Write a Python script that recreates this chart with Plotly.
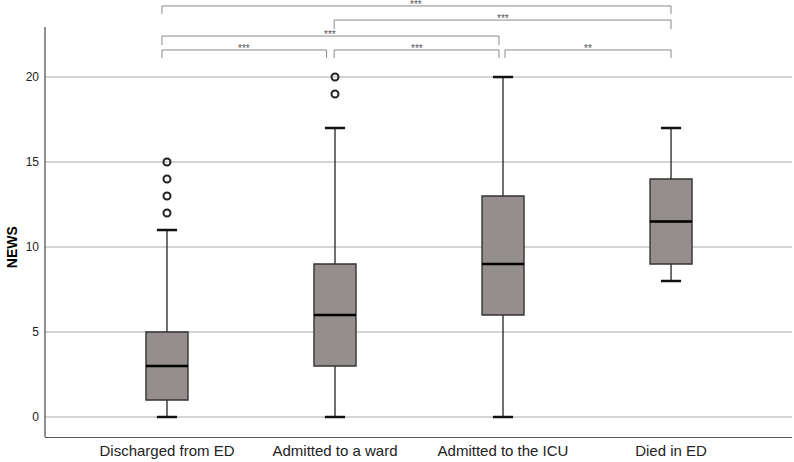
import plotly.graph_objects as go

# group labels and box statistics
categories = ["Discharged from ED", "Admitted to a ward", "Admitted to the ICU", "Died in ED"]
lower = [0, 0, 0, 8]
q1 = [1, 3, 6, 9]
median = [3, 6, 9, 11.5]
q3 = [5, 9, 13, 14]
upper = [11, 17, 20, 17]
outliers = [[12, 13, 14, 15], [19, 20], [], []]
yticks = [0, 5, 10, 15, 20]

# pairwise comparisons: (from group, to group, label)
comparisons = [
    (0, 3, "***"),
    (1, 3, "***"),
    (0, 2, "***"),
    (0, 1, "***"),
    (1, 2, "***"),
    (2, 3, "**"),
]

BOX_W = 0.25
CAP_W = 0.12
pos = list(range(len(categories)))

fig = go.Figure()

for i, name in enumerate(categories):
    fig.add_trace(go.Box(
        x=[pos[i]], q1=[q1[i]], median=[median[i]], q3=[q3[i]],
        lowerfence=[lower[i]], upperfence=[upper[i]],
        width=BOX_W, whiskerwidth=0.001,
        fillcolor="#948f8d", line=dict(color="#333", width=1.4),
        boxpoints=False, name=name, hoverinfo="skip",
    ))

# thick black medians and whisker caps like SPSS
mx, my, cx, cy = [], [], [], []
for i in pos:
    mx += [i - BOX_W / 2, i + BOX_W / 2, None]
    my += [median[i], median[i], None]
    for v in (lower[i], upper[i]):
        cx += [i - CAP_W / 2, i + CAP_W / 2, None]
        cy += [v, v, None]
fig.add_trace(go.Scatter(x=mx, y=my, mode="lines", line=dict(color="black", width=2.5), hoverinfo="skip"))
fig.add_trace(go.Scatter(x=cx, y=cy, mode="lines", line=dict(color="#111", width=2.5), hoverinfo="skip"))

ox, oy = [], []
for i in pos:
    for v in outliers[i]:
        ox.append(i)
        oy.append(v)
fig.add_trace(go.Scatter(x=ox, y=oy, mode="markers",
                         marker=dict(symbol="circle-open", size=7, color="#222", line=dict(width=2)),
                         hoverinfo="skip"))

# significance brackets
levels = [(24.18, 23.71), (23.35, 22.82), (22.41, 21.88), (21.59, 21.12), (21.59, 21.12), (21.59, 21.12)]
for k, (a, b, lab) in enumerate(comparisons):
    top, bot = levels[k]
    xa = a - 0.03 if a != 1 else a - 0.005
    xb = b - 0.05 if (b == 1) else (b - 0.024 if b == 2 else b)
    if a == 2 and k == 5:
        xa = a + 0.012
    fig.add_shape(type="path", xref="x", yref="y",
                  path=f"M {xa},{bot} L {xa},{top} L {xb},{top} L {xb},{bot}",
                  line=dict(color="#8a8a8a", width=1))
    fig.add_annotation(x=(xa + xb) / 2, y=top, text=lab, showarrow=False,
                       yanchor="bottom", yshift=-6, font=dict(size=10, color="#555"))

# left axis line (stops short of the brackets)
fig.add_shape(type="line", xref="paper", yref="y", x0=0, x1=0, y0=-1.18, y1=22.94,
              line=dict(color="#555", width=1.3))

fig.add_annotation(text="<b>NEWS</b>", xref="paper", yref="y", x=-0.044, xanchor="center", y=10,
                   textangle=-90, showarrow=False, font=dict(size=14, color="black"))

fig.update_layout(
    width=794, height=462,
    margin=dict(l=45, r=2, t=0, b=25),
    paper_bgcolor="white", plot_bgcolor="white",
    showlegend=False,
    font=dict(family="Liberation Sans, Arial, sans-serif", color="#222"),
    xaxis=dict(range=[-0.726, 3.72], tickvals=pos, ticktext=categories,
               showgrid=False, zeroline=False, showline=True, linecolor="#555", linewidth=1.3,
               ticks="", tickfont=dict(size=15, color="#222")),
    yaxis=dict(range=[-1.176, 24.53], tickvals=yticks, showgrid=True, gridcolor="#d4d4d4",
               gridwidth=1.5, zeroline=False, showline=False, ticks="", ticklabelstandoff=5,
               tickfont=dict(size=12, color="#222")),
)

fig.write_html("out.html", config={"displayModeBar": False},
               post_script="document.body.style.margin='0';")
